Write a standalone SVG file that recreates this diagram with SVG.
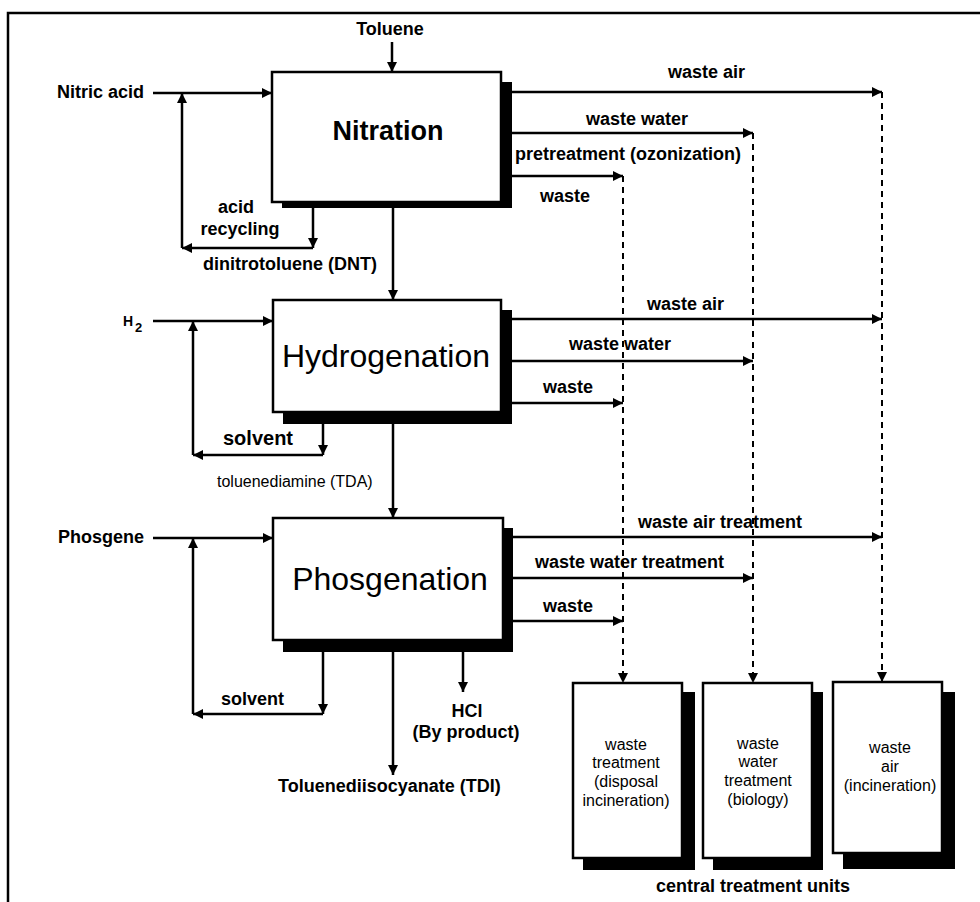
<svg xmlns="http://www.w3.org/2000/svg" width="980" height="902" viewBox="0 0 980 902">
<style>
text{font-family:"Liberation Sans",Arial,sans-serif;fill:#000}
.b{font-weight:bold;font-size:18px}
.r{font-size:16px}
.t{font-size:32px}
.box{fill:#fff;stroke:#000;stroke-width:2.5}
.sh{fill:#000}
.ln{fill:none;stroke:#000;stroke-width:2.5}
.ds{fill:none;stroke:#000;stroke-width:2;stroke-dasharray:6 5}
.m{text-anchor:middle}
</style>
<defs>
<marker id="ah" viewBox="0 0 10 10" refX="10" refY="5" markerWidth="12" markerHeight="10" markerUnits="userSpaceOnUse" orient="auto"><path d="M0,0 L10,5 L0,10 z" fill="#000"/></marker>
</defs>
<rect width="980" height="902" fill="#fff"/>
<path d="M8,902 V13 H980" fill="none" stroke="#000" stroke-width="2.5"/>

<g id="connectors">
<path class="ln" d="M392,42 V72" marker-end="url(#ah)"/>
<path class="ln" d="M153,93 H272" marker-end="url(#ah)"/>
<path class="ln" d="M313,208 V248" marker-end="url(#ah)"/>
<path class="ln" d="M313,248 H182" marker-end="url(#ah)"/>
<path class="ln" d="M182,248 V93" marker-end="url(#ah)"/>
<path class="ln" d="M393,208 V300" marker-end="url(#ah)"/>
<path class="ln" d="M512,92 H882" marker-end="url(#ah)"/>
<path class="ln" d="M512,133 H753" marker-end="url(#ah)"/>
<path class="ln" d="M512,176 H623" marker-end="url(#ah)"/>

<path class="ln" d="M153,321 H273" marker-end="url(#ah)"/>
<path class="ln" d="M323,424 V455" marker-end="url(#ah)"/>
<path class="ln" d="M323,455 H193" marker-end="url(#ah)"/>
<path class="ln" d="M193,455 V321" marker-end="url(#ah)"/>
<path class="ln" d="M393,424 V518" marker-end="url(#ah)"/>
<path class="ln" d="M512,319 H882" marker-end="url(#ah)"/>
<path class="ln" d="M512,361 H753" marker-end="url(#ah)"/>
<path class="ln" d="M512,403 H623" marker-end="url(#ah)"/>

<path class="ln" d="M153,538 H273" marker-end="url(#ah)"/>
<path class="ln" d="M323,652 V714" marker-end="url(#ah)"/>
<path class="ln" d="M323,714 H193" marker-end="url(#ah)"/>
<path class="ln" d="M193,714 V538" marker-end="url(#ah)"/>
<path class="ln" d="M463,652 V692" marker-end="url(#ah)"/>
<path class="ln" d="M393,652 V775" marker-end="url(#ah)"/>
<path class="ln" d="M513,537 H882" marker-end="url(#ah)"/>
<path class="ln" d="M513,578 H753" marker-end="url(#ah)"/>
<path class="ln" d="M513,621 H623" marker-end="url(#ah)"/>

<path class="ds" d="M623,176 V683" marker-end="url(#ah)"/>
<path class="ds" d="M753,133 V683" marker-end="url(#ah)"/>
<path class="ds" d="M882,92 V682" marker-end="url(#ah)"/>
</g>

<g id="labels">
<text class="b m" x="390" y="35">Toluene</text>
<text class="b" x="57" y="98">Nitric acid</text>
<text class="b m" x="236" y="213">acid</text>
<text class="b m" x="240" y="235">recycling</text>
<text class="b" x="203" y="270">dinitrotoluene (DNT)</text>
<text class="b" x="668" y="78">waste air</text>
<text class="b" x="586" y="125">waste water</text>
<text class="b" x="515" y="160">pretreatment (ozonization)</text>
<text class="b" x="540" y="202">waste</text>

<text x="123" y="326" style="font-weight:bold;font-size:14px">H</text>
<text x="135" y="332" style="font-weight:bold;font-size:13px">2</text>
<text x="223" y="445" style="font-weight:bold;font-size:20px">solvent</text>
<text class="r" x="217" y="487">toluenediamine (TDA)</text>
<text class="b" x="647" y="310">waste air</text>
<text class="b" x="569" y="350">waste water</text>
<text class="b" x="543" y="393">waste</text>

<text class="b" x="58" y="543">Phosgene</text>
<text class="b" x="221" y="705">solvent</text>
<text class="b m" x="467" y="717">HCl</text>
<text class="b m" x="466" y="738">(By product)</text>
<text class="b" x="278" y="792">Toluenediisocyanate (TDI)</text>
<text class="b" x="638" y="528">waste air treatment</text>
<text class="b" x="535" y="568">waste water treatment</text>
<text class="b" x="543" y="612">waste</text>
<text class="b" x="656" y="892">central treatment units</text>
</g>

<g id="nitration">
<rect class="sh" x="282" y="82" width="230" height="126"/>
<rect class="box" x="272" y="72" width="229" height="130"/>
<text class="m" x="388" y="140" style="font-weight:bold;font-size:27px">Nitration</text>
</g>

<g id="hydrogenation">
<rect class="sh" x="283" y="310" width="229" height="114"/>
<rect class="box" x="273" y="300" width="228" height="112"/>
<text class="t m" x="386" y="367">Hydrogenation</text>
</g>

<g id="phosgenation">
<rect class="sh" x="283" y="528" width="230" height="124"/>
<rect class="box" x="273" y="518" width="230" height="122"/>
<text class="t m" x="390" y="590">Phosgenation</text>
</g>

<g id="waste-treatment">
<rect class="sh" x="583" y="692" width="112" height="178"/>
<rect class="box" x="573" y="683" width="109" height="175"/>
<text class="r m" x="626" y="750">waste</text>
<text class="r m" x="626" y="768">treatment</text>
<text class="r m" x="626" y="787">(disposal</text>
<text class="r m" x="626" y="806">incineration)</text>
</g>

<g id="waste-water-treatment">
<rect class="sh" x="713" y="692" width="110" height="178"/>
<rect class="box" x="703" y="683" width="109" height="175"/>
<text class="r m" x="758" y="749">waste</text>
<text class="r m" x="758" y="767">water</text>
<text class="r m" x="758" y="786">treatment</text>
<text class="r m" x="758" y="805">(biology)</text>
</g>

<g id="waste-air-treatment">
<rect class="sh" x="843" y="692" width="112" height="177"/>
<rect class="box" x="833" y="682" width="109" height="171"/>
<text class="r m" x="890" y="753">waste</text>
<text class="r m" x="890" y="772">air</text>
<text class="r m" x="890" y="791">(incineration)</text>
</g>
</svg>
